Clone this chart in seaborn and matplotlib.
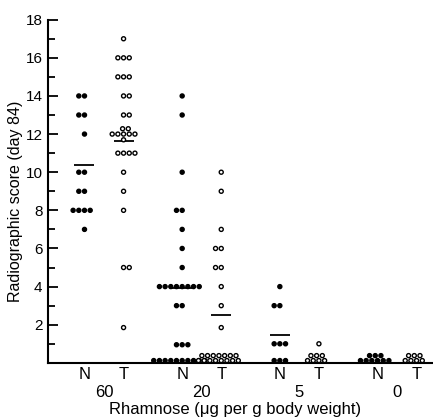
import warnings
warnings.filterwarnings("ignore")
import numpy as np
import pandas as pd
import matplotlib
matplotlib.use("Agg")
import matplotlib.pyplot as plt
import seaborn as sns

# ---- data ----
doses = ["60", "20", "5", "0"]
treatments = ["N", "T"]

n60 = [14, 14, 13, 13, 12, 10, 10, 9, 9, 8, 8, 8, 8, 7]
t60 = [17, 16, 16, 16, 15, 15, 15, 14, 14, 13, 13,
       12.28, 12.28, 12, 12, 12, 12, 12, 11.7,
       11, 11, 11, 11, 10, 9, 8, 5, 5, 1.85]
n20 = [14, 13, 10, 8, 8, 7, 6, 5, 4, 4, 4, 4, 4, 4, 4, 4, 3, 3,
       0.95, 0.95, 0.95,
       0.12, 0.12, 0.12, 0.12, 0.12, 0.12, 0.12, 0.12, 0.12, 0.12]
t20 = [10, 9, 7, 6, 6, 5, 5, 4, 3, 1.85,
       0.38, 0.38, 0.38, 0.38, 0.38, 0.38, 0.38,
       0.12, 0.12, 0.12, 0.12, 0.12, 0.12, 0.12, 0.12]
n5 = [4, 3, 3, 1, 1, 1, 0.12, 0.12, 0.12]
t5 = [1, 0.38, 0.38, 0.38, 0.12, 0.12, 0.12, 0.12]
n0 = [0.38, 0.38, 0.38, 0.12, 0.12, 0.12, 0.12, 0.12, 0.12]
t0 = [0.38, 0.38, 0.38, 0.12, 0.12, 0.12, 0.12]

mean_dose = ["60", "60", "20", "20", "5"]
mean_treat = ["N", "T", "N", "T", "N"]
mean_val = [10.4, 11.62, 3.92, 2.5, 1.45]

series = {("60", "N"): n60, ("60", "T"): t60,
          ("20", "N"): n20, ("20", "T"): t20,
          ("5", "N"): n5, ("5", "T"): t5,
          ("0", "N"): n0, ("0", "T"): t0}

rows = []
for (d, t), vals in series.items():
    for v in vals:
        rows.append({"dose": d, "treatment": t, "score": v})
df = pd.DataFrame(rows)
means_df = pd.DataFrame({"dose": mean_dose, "treatment": mean_treat, "score": mean_val})

# ---- figure ----
sns.set_style("ticks")
plt.rcParams["font.family"] = ["Liberation Sans", "DejaVu Sans"]
plt.rcParams["text.color"] = "black"
plt.rcParams["axes.labelcolor"] = "black"
plt.rcParams["xtick.color"] = "black"
plt.rcParams["ytick.color"] = "black"
plt.rcParams["axes.edgecolor"] = "black"

fig = plt.figure(figsize=(4.33, 4.19), dpi=100)
ax = fig.add_axes([0.111, 0.134, 0.889, 0.819])

sns.swarmplot(data=df, x="dose", y="score", hue="treatment",
              order=doses, hue_order=treatments, dodge=True,
              palette={"N": "black", "T": "white"}, edgecolor="black",
              linewidth=1.0, size=2.9, legend=False, ax=ax,
              clip_on=False, zorder=3)

sns.pointplot(data=means_df, x="dose", y="score", hue="treatment",
              order=doses, hue_order=treatments, dodge=0.4,
              markers="_", linestyle="none", errorbar=None,
              palette={"N": "black", "T": "black"},
              markersize=15, markeredgewidth=1.3, legend=False, ax=ax)

ax.set_xlim(-0.573, 3.368)
ax.set_ylim(0, 18)

for s in ["top", "right"]:
    ax.spines[s].set_visible(False)
for s in ["left", "bottom"]:
    ax.spines[s].set_linewidth(1.5)
    ax.spines[s].set_color("black")

# y ticks
ax.set_yticks(range(0, 19, 2))
ax.set_yticklabels([""] + [str(v) for v in range(2, 19, 2)])
ax.set_yticks(range(1, 18, 2), minor=True)
ax.tick_params(axis="y", which="major", direction="in", length=7, width=1.3,
               pad=4, labelsize=11)
ax.tick_params(axis="y", which="minor", direction="in", length=5, width=1.3)

# x ticks: dose labels (major) and N/T labels (minor)
offs = [-0.2, 0.2]
ax.set_xticks(range(len(doses)))
ax.set_xticklabels(doses)
ax.set_xticks([i + o for i in range(len(doses)) for o in offs], minor=True)
ax.set_xticklabels(treatments * len(doses), minor=True)
ax.tick_params(axis="x", which="both", length=0, labelsize=12)
ax.tick_params(axis="x", which="major", pad=16)
ax.tick_params(axis="x", which="minor", pad=3)

ax.set_ylabel("Radiographic score (day 84)", fontsize=11.5)
ax.yaxis.set_label_coords(-0.064, 0.47)
ax.set_xlabel("Rhamnose (\u03bcg per g body weight)", fontsize=12)
ax.xaxis.set_label_coords(0.486, -0.115)
ax.xaxis.label.set_verticalalignment("top")

fig.savefig("out.png", dpi=100, facecolor="white")
